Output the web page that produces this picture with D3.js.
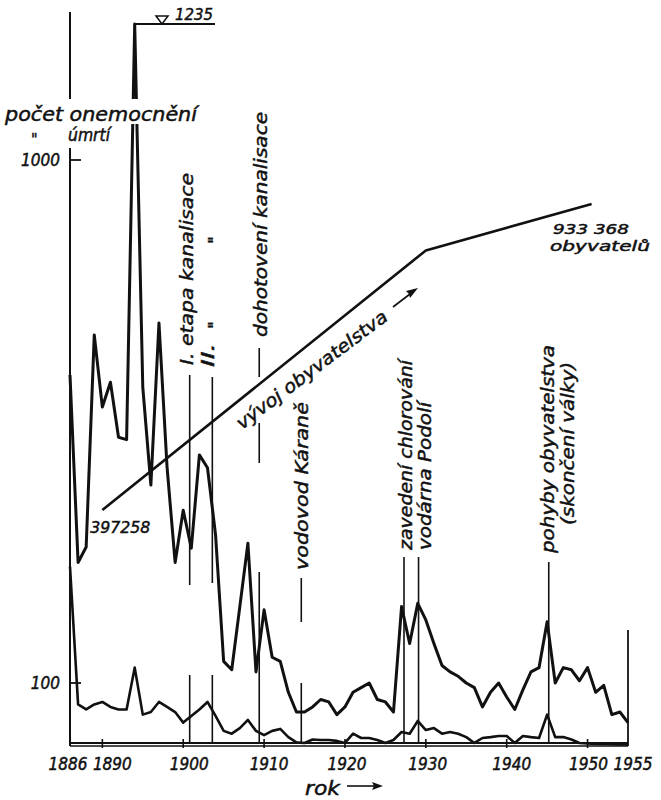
<!DOCTYPE html>
<html><head><meta charset="utf-8">
<script src="https://cdn.jsdelivr.net/npm/d3@7"></script>
<style>
html,body{margin:0;padding:0;background:#fff;}
svg{display:block;}
text{font-family:"DejaVu Sans Condensed","DejaVu Sans",sans-serif;font-style:oblique;fill:#111;stroke:#111;stroke-width:0.45px;}
</style></head><body>
<svg id="c" width="661" height="800"></svg>
<script>
// ---------- data ----------
const years = d3.range(1886, 1956);
const cases = [388,170,182,463,337,376,295,292,1235,368,239,488,259,170,214,181,273,258,192,110,
  106,140,185,105,138,112,110,96,88,88,90,93,92,87,90,96,98,100,93,92,
  88,140,119,142,132,119,108,105,103,100,98,90,96,100,94,89,97,105,107,131,
  100,107,106,101,107,96,99,87,88,84];
const deaths = [167,91,89,91,92,90,89,89,107,87,88,92,90,88,84,86.5,89,92,86.5,81,
  80,82,85,81,79.5,81,81.7,78.8,77,76.8,78,77.8,77.8,77.5,76.8,80,78.5,78.5,77.8,76.8,
  77.8,80.6,80,84.6,81.3,82,80,80.6,80,78.8,76.8,78.5,78.8,79.2,79.2,76.8,79.2,78.8,78.5,87,
  78.8,78.8,78,76.8,76.6,76.5,76.5,76.4,76.3,76.3];
const popYears = [1890, 1930, 1950.5];
const popValues = [397258, 852000, 933368];
const yTicks = [100, 1000];
const yTickLabels = ["100", "1000"];
const xTicks = [1886, 1890, 1900, 1910, 1920, 1930, 1940, 1950, 1955];
const peakYear = 1894, peakValue = 1235;
const eventYears = [1900.8, 1903.6, 1909.4, 1914.6, 1927.3, 1929.1, 1945.2];
const eventLabels = [["I. etapa kanalisace"], ["II."], ["dohotovení kanalisace"], ["vodovod Káraně"],
  ["zavedení chlorování"], ["vodárna Podolí"], ["pohyby obyvatelstva", "(skončení války)"]];

// ---------- scales ----------
const x = d3.scaleLinear().domain([1886, 1955]).range([70, 628]);
// log scale; the off-scale 1894 peak is compressed into the top strip
const y = d3.scaleLog().domain([100, 1000, peakValue]).range([683, 160, 24]);
const yp = d3.scaleLinear().domain([popValues[0], popValues[2]]).range([510, 204]);
const yBase = 743;

const svg = d3.select('#c');
const ink = '#111';

// ---------- event lines ----------
const evSegs = [
  [[375,585],[675,yBase]],
  [[377,583],[675,yBase]],
  [[348,377],[423,463],[572,yBase]],
  [[578,622],[683,yBase]],
  [[557,yBase]],
  [[557,yBase]],
  [[562,yBase]]
];
eventYears.forEach((ey, i) => {
  evSegs[i].forEach(s => {
    svg.append('line').attr('x1', x(ey)).attr('x2', x(ey)).attr('y1', s[0]).attr('y2', s[1])
      .attr('stroke', ink).attr('stroke-width', 1.6);
  });
});
// end line at 1955
svg.append('line').attr('x1', x(1955)).attr('x2', x(1955)).attr('y1', 630).attr('y2', yBase + 3)
  .attr('stroke', ink).attr('stroke-width', 1.8);

// ---------- curves ----------
const line = d3.line().x(d => x(d[0])).y(d => y(d[1]));
svg.append('path').attr('d', line(years.map((yr, i) => [yr, deaths[i]])))
  .attr('fill', 'none').attr('stroke', ink).attr('stroke-width', 2.6).attr('stroke-linejoin', 'round');
svg.append('path').attr('d', line(years.map((yr, i) => [yr, cases[i]])))
  .attr('fill', 'none').attr('stroke', ink).attr('stroke-width', 3).attr('stroke-linejoin', 'round');

// population
const pline = d3.line().x(d => x(d[0])).y(d => yp(d[1]));
svg.append('path').attr('d', pline(popYears.map((yr, i) => [yr, popValues[i]])))
  .attr('fill', 'none').attr('stroke', ink).attr('stroke-width', 2.6).attr('stroke-linejoin', 'round');

// ---------- axes ----------
svg.append('line').attr('x1', 70).attr('x2', 70).attr('y1', 12).attr('y2', yBase + 3)
  .attr('stroke', ink).attr('stroke-width', 2);
svg.append('line').attr('x1', 70).attr('x2', x(1955)).attr('y1', yBase).attr('y2', yBase)
  .attr('stroke', ink).attr('stroke-width', 2);
svg.append('line').attr('x1', 70).attr('x2', x(1955)).attr('y1', yBase + 3).attr('y2', yBase + 3)
  .attr('stroke', ink).attr('stroke-width', 1.5);
xTicks.slice(1, -1).forEach(t => {
  svg.append('line').attr('x1', x(t)).attr('x2', x(t)).attr('y1', yBase - 4).attr('y2', yBase + 5)
    .attr('stroke', ink).attr('stroke-width', 1.6);
});
const xNudge = {1886:-2, 1890:10, 1900:6, 1910:5, 1920:2, 1930:2, 1940:5, 1950:1, 1955:5};
xTicks.forEach(t => {
  svg.append('text').attr('x', x(t) + xNudge[t]).attr('y', 770).attr('text-anchor', 'middle')
    .attr('font-size', 17).text(t);
});
yTicks.forEach((t, i) => {
  svg.append('line').attr('x1', 69).attr('x2', 81).attr('y1', y(t)).attr('y2', y(t))
    .attr('stroke', ink).attr('stroke-width', 1.8);
  svg.append('text').attr('x', 60).attr('y', y(t) + 6).attr('text-anchor', 'end')
    .attr('font-size', 17).text(yTickLabels[i]);
});
// rok ->
svg.append('text').attr('x', 305).attr('y', 795).attr('font-size', 19)
  .attr('textLength', 35).attr('lengthAdjust', 'spacingAndGlyphs').text('rok');
svg.append('line').attr('x1', 347).attr('x2', 377).attr('y1', 786).attr('y2', 786)
  .attr('stroke', ink).attr('stroke-width', 1.6);
svg.append('path').attr('d', 'M383,786 L372,782 L374,786 L372,790 Z').attr('fill', ink);

// ---------- peak marker ----------
const py = y(peakValue);
svg.append('line').attr('x1', x(peakYear)).attr('x2', 215).attr('y1', py).attr('y2', py)
  .attr('stroke', ink).attr('stroke-width', 1.8);
svg.append('path').attr('d', `M156,${py - 8} L168,${py - 8} L162,${py} Z`)
  .attr('fill', '#fff').attr('stroke', ink).attr('stroke-width', 1.5);
svg.append('text').attr('x', 175).attr('y', py - 4).attr('font-size', 16)
  .attr('textLength', 38).attr('lengthAdjust', 'spacingAndGlyphs').text(peakValue);

// ---------- title labels ----------
svg.append('rect').attr('x', 0).attr('y', 99).attr('width', 202).attr('height', 25).attr('fill', '#fff');
svg.append('rect').attr('x', 26).attr('y', 124).attr('width', 88).attr('height', 24).attr('fill', '#fff');
svg.append('text').attr('x', 5).attr('y', 121).attr('font-size', 19)
  .attr('textLength', 192).attr('lengthAdjust', 'spacingAndGlyphs').text('počet onemocnění');
svg.append('text').attr('x', 31).attr('y', 145).attr('font-size', 16).text('"');
svg.append('text').attr('x', 68).attr('y', 141).attr('font-size', 17)
  .attr('textLength', 42).attr('lengthAdjust', 'spacingAndGlyphs').text('úmrtí');

// ---------- rotated event labels ----------
// [event index, line index, baseline offset from event line, bottom y, length]
const evText = [
  [0, 0, 3, 365, 192],
  [1, 0, 2, 367, 24],
  [2, 0, 8, 337, 225],
  [3, 0, 7, 570, 168],
  [4, 0, 8, 550, 190],
  [5, 0, 12, 550, 148],
  [6, 0, 5, 553, 208],
  [6, 1, 25, 525, 163]
];
evText.forEach(([ei, li, dx, yb, len]) => {
  svg.append('text').attr('transform', `translate(${x(eventYears[ei]) + dx},${yb}) rotate(-90)`)
    .attr('font-size', 18).attr('textLength', len).attr('lengthAdjust', 'spacingAndGlyphs')
    .text(eventLabels[ei][li]);
});
// ditto marks for "II. etapa kanalisace"
[325, 240].forEach(yy => {
  svg.append('text').attr('transform', `translate(${x(eventYears[1]) + 9},${yy}) rotate(-90)`)
    .attr('text-anchor', 'middle').attr('font-size', 18).text('"');
});

// ---------- population labels ----------
svg.append('text').attr('x', x(popYears[0]) - 12).attr('y', yp(popValues[0]) + 23).attr('font-size', 16)
  .attr('textLength', 60).attr('lengthAdjust', 'spacingAndGlyphs').text('397258');
svg.append('text').attr('x', 553).attr('y', 234).attr('font-size', 14)
  .attr('textLength', 76).attr('lengthAdjust', 'spacingAndGlyphs').text('933 368');
svg.append('text').attr('x', 550).attr('y', 251).attr('font-size', 14)
  .attr('textLength', 100).attr('lengthAdjust', 'spacingAndGlyphs').text('obyvatelů');
svg.append('text').attr('transform', 'translate(242,430) rotate(-37)').attr('font-size', 18)
  .attr('textLength', 184).attr('lengthAdjust', 'spacingAndGlyphs').text('vývoj obyvatelstva');
svg.append('line').attr('x1', 393).attr('y1', 307).attr('x2', 412).attr('y2', 292.5)
  .attr('stroke', ink).attr('stroke-width', 1.6);
svg.append('path').attr('d', 'M418,288 L406,291 L409,294 L410,298 Z').attr('fill', ink);
</script>
</body></html>
